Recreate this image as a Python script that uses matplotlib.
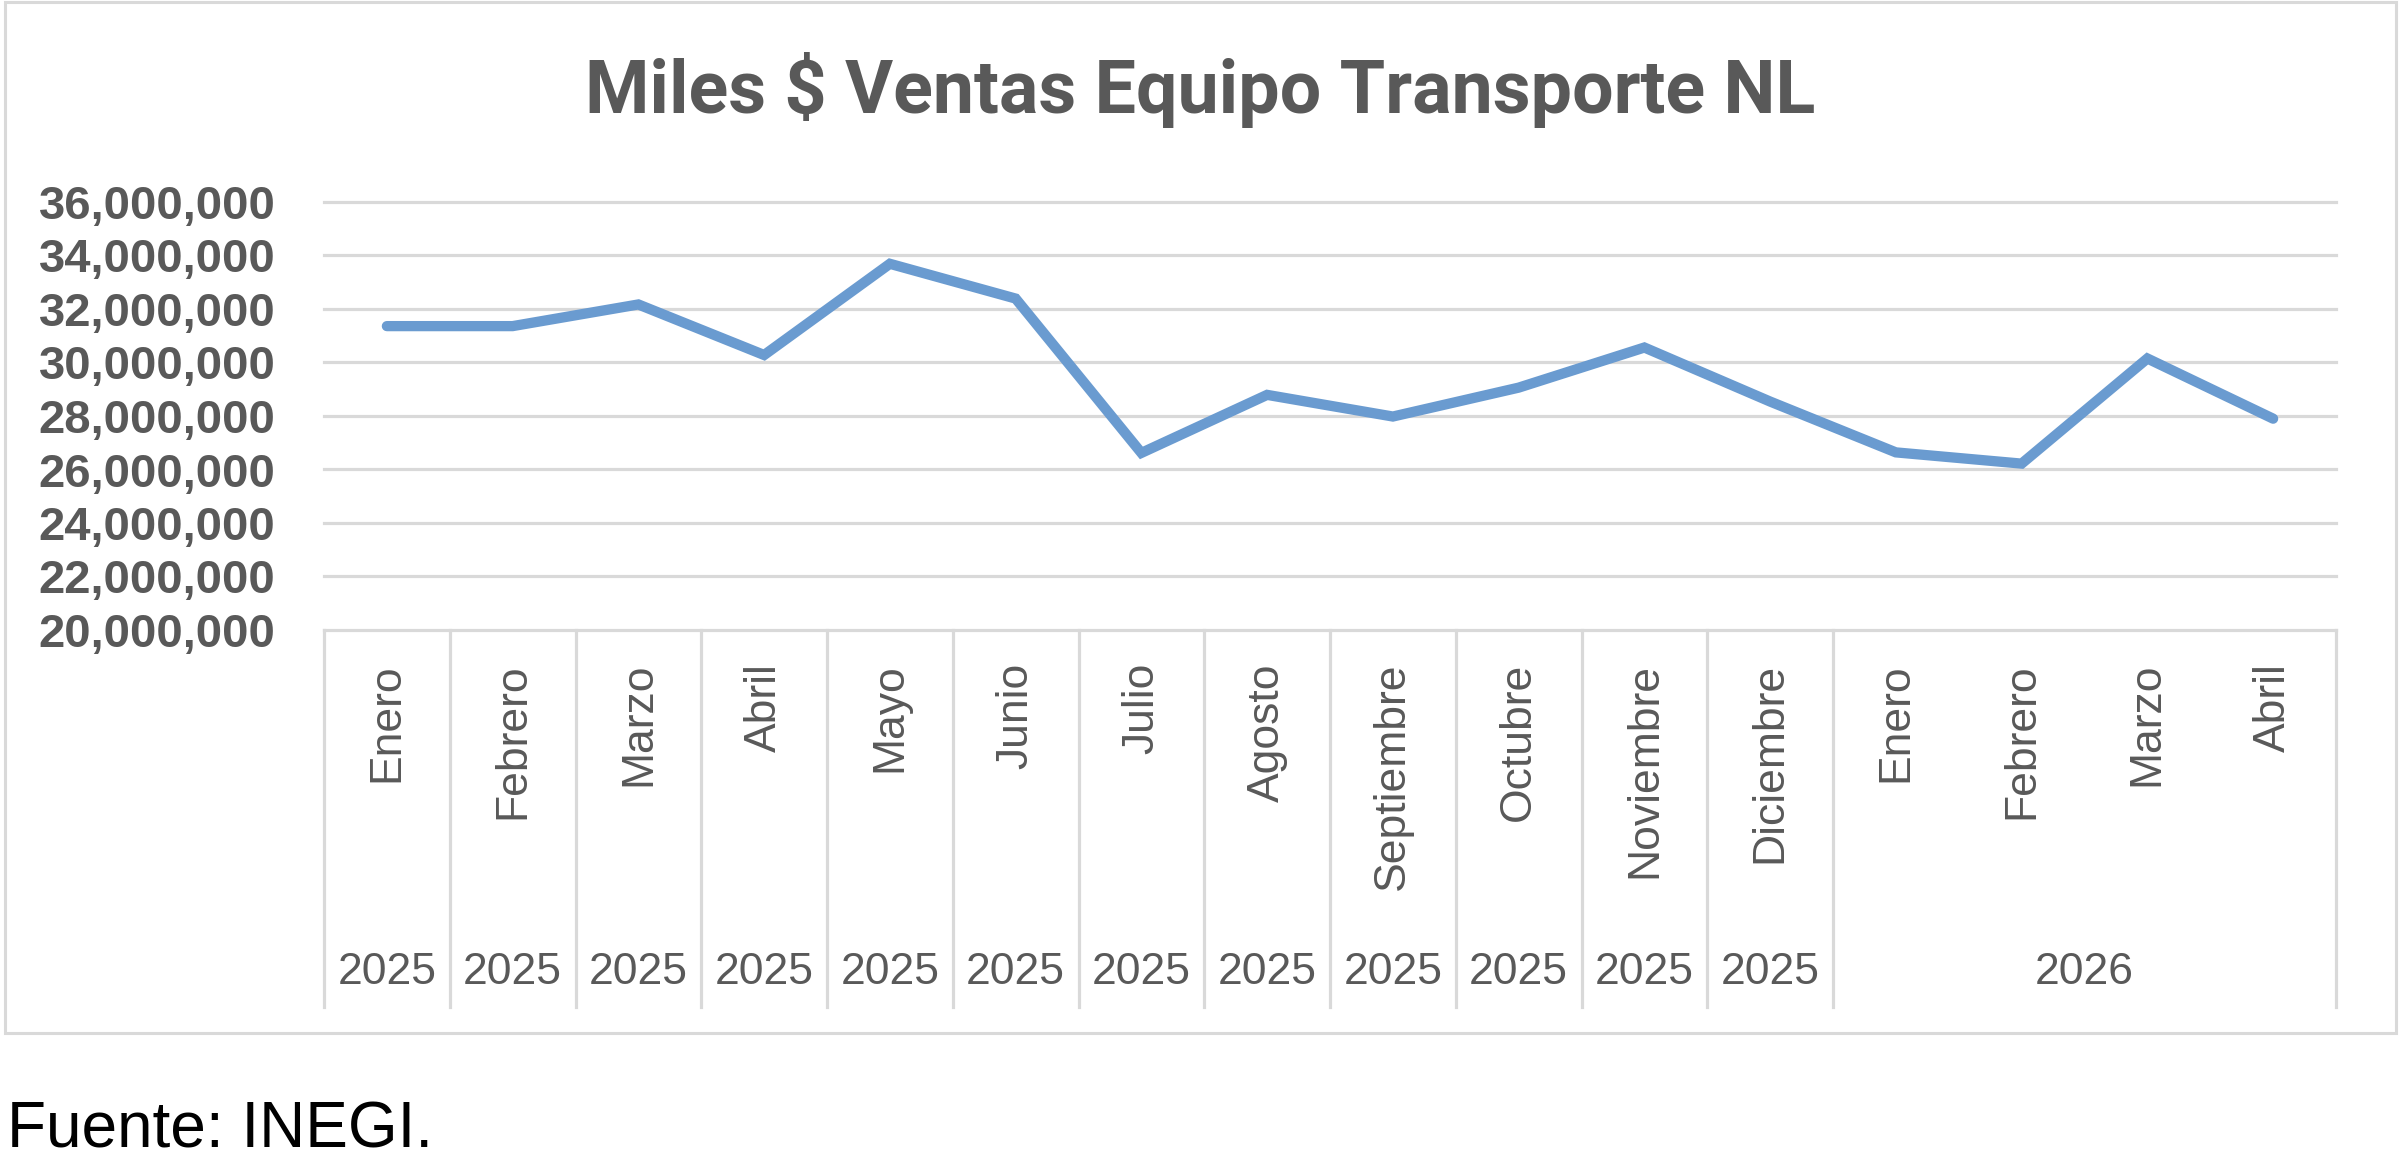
import matplotlib
matplotlib.use("Agg")
import matplotlib.pyplot as plt
import matplotlib.transforms as mtransforms
from matplotlib.patches import Rectangle
from matplotlib.ticker import FuncFormatter

# ---- data ----
months = ["Enero", "Febrero", "Marzo", "Abril", "Mayo", "Junio", "Julio", "Agosto",
          "Septiembre", "Octubre", "Noviembre", "Diciembre",
          "Enero", "Febrero", "Marzo", "Abril"]
years = ["2025"] * 12 + ["2026"] * 4
ventas = [31360000, 31360000, 32170000, 30280000, 33690000, 32390000, 26620000, 28790000,
          27980000, 29060000, 30560000, 28540000, 26640000, 26220000, 30150000, 27900000]
yticks = [20000000, 22000000, 24000000, 26000000, 28000000, 30000000, 32000000, 34000000, 36000000]
title = "Miles $ Ventas Equipo Transporte NL"
source = "Fuente: INEGI."

W, H = 2404, 1164
DPI = 100
GRAY_TXT = "#595959"
GRID = "#D9D9D9"
LINE = "#6A9BD0"

fig = plt.figure(figsize=(W / DPI, H / DPI), dpi=DPI)
fig.patch.set_facecolor("white")

# outer chart border
fig.patches.append(Rectangle((5 / W, 1 - 1033 / H), (2396 - 5) / W, (1033 - 2) / H,
                             transform=fig.transFigure, fill=False, edgecolor=GRID,
                             linewidth=2.2, zorder=0))

left, right, top, bottom = 324, 2336, 202, 630
ax = fig.add_axes([left / W, 1 - bottom / H, (right - left) / W, (bottom - top) / H])
n = len(months)
x = list(range(n))
ax.set_xlim(-0.5, n - 0.5)
ax.set_ylim(yticks[0], yticks[-1])
for s in ax.spines.values():
    s.set_visible(False)

for t in yticks:
    ax.axhline(t, color=GRID, lw=2.3, zorder=1, clip_on=False)

ax.plot(x, ventas, color=LINE, lw=7.4, solid_capstyle="round", solid_joinstyle="miter", zorder=3)

ax.set_xticks([])
ax.set_yticks(yticks)
ax.yaxis.set_major_formatter(FuncFormatter(lambda v, p: f"{int(v):,}"))
ax.tick_params(axis="y", length=0, pad=35, labelsize=34, labelcolor=GRAY_TXT)
for lab in ax.get_yticklabels():
    lab.set_fontfamily("Liberation Sans")
    lab.set_fontweight("bold")

trans = mtransforms.blended_transform_factory(ax.transData, ax.transAxes)
ph = bottom - top
sep_bottom = (bottom - 1007) / ph

# category separators: each 2025 month is its own group, 2026 is one group
bounds = [i - 0.5 for i in range(12)] + [11.5, n - 0.5]
for b in sorted(set(bounds)):
    ax.plot([b, b], [0, sep_bottom], transform=trans, color=GRID, lw=2.3, clip_on=False, zorder=1)

month_top = (bottom - 663) / ph
for i, m in enumerate(months):
    ax.text(i, month_top, m, transform=trans, rotation=90, ha="center", va="top",
            fontsize=32, color=GRAY_TXT, family="Liberation Sans")

year_y = (bottom - 972) / ph
for i in range(12):
    ax.text(i, year_y, years[i], transform=trans, ha="center", va="center",
            fontsize=32, color=GRAY_TXT, family="Liberation Sans")
ax.text((12 + n - 1) / 2, year_y, years[12], transform=trans, ha="center", va="center",
        fontsize=32, color=GRAY_TXT, family="Liberation Sans")

fig.text(1200 / W, 1 - 113 / H, title, ha="center", va="baseline", fontsize=53,
         fontweight="bold", color=GRAY_TXT, family="Roboto")

fig.text(7 / W, 1 - 1148 / H, source, ha="left", va="baseline", fontsize=46,
         color="black", family="Liberation Sans")

fig.savefig("out.png", dpi=DPI, facecolor="white")
